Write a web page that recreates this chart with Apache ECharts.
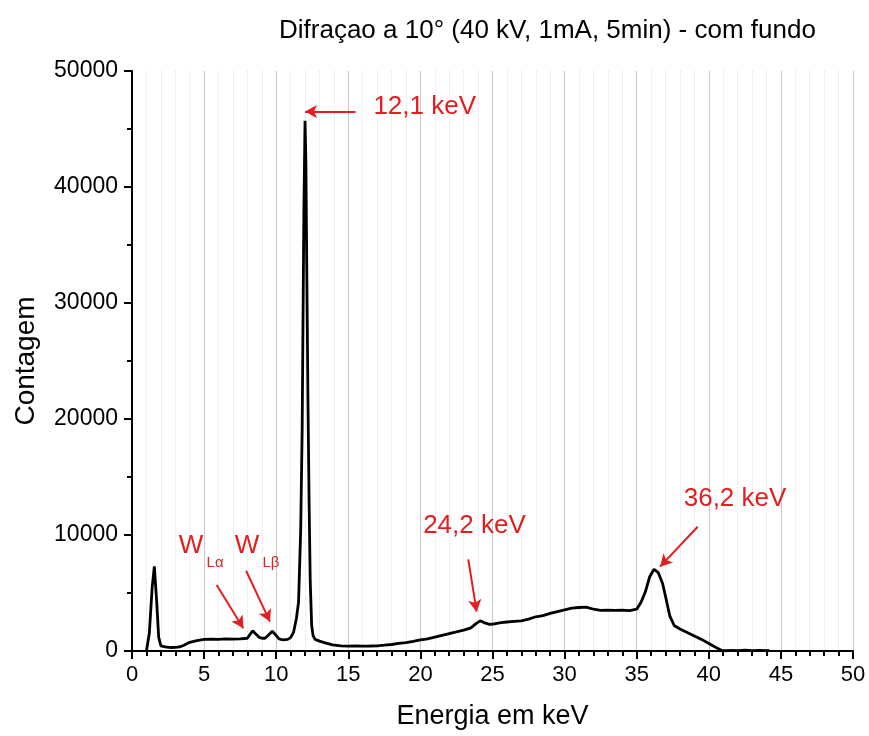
<!DOCTYPE html>
<html>
<head>
<meta charset="utf-8">
<script src="https://cdn.jsdelivr.net/npm/echarts@6/dist/echarts.min.js"></script>
<style>html,body{margin:0;padding:0;background:#fff;}#chart{width:869px;height:736px;}</style>
</head>
<body>
<div id="chart"></div>
<script>
// Energy (keV) and counts
const energy = [1.0,1.2,1.4,1.55,1.7,1.85,2.0,2.3,2.7,3.0,3.3,3.6,4.0,4.5,5.0,5.5,6.0,6.5,7.0,7.5,8.0,8.2,8.37,8.55,8.8,9.0,9.22,9.45,9.73,9.95,10.2,10.5,10.8,11.0,11.2,11.4,11.55,11.7,11.8,11.92,12.0,12.06,12.12,12.2,12.28,12.36,12.46,12.56,12.7,13.0,13.4,13.9,14.5,15.0,15.5,16.0,16.5,17.0,17.5,18.0,18.5,19.0,19.5,20.0,20.5,21.0,21.5,22.0,22.5,23.0,23.5,23.9,24.15,24.4,24.8,25.2,25.6,26.0,26.5,27.0,27.5,28.0,28.5,29.0,29.5,30.0,30.5,31.0,31.5,32.0,32.5,33.0,33.5,34.0,34.5,35.0,35.3,35.6,35.9,36.2,36.5,36.8,37.0,37.3,37.6,38.0,38.5,39.0,39.5,40.0,40.5,40.9,41.2,41.6,42.0,42.5,43.0,43.5,44.0,44.2];
const counts = [0,1500,5500,7300,4500,1200,450,350,300,320,350,500,750,900,1000,1020,1000,1050,1030,1050,1100,1450,1750,1500,1200,1100,1100,1350,1700,1400,1050,950,1000,1150,1600,2800,4200,10500,19000,38000,45700,42000,33000,22000,13000,6000,2200,1300,1000,850,700,520,450,420,430,420,430,450,500,560,650,720,830,950,1050,1200,1350,1500,1650,1800,2000,2400,2600,2450,2300,2350,2450,2500,2550,2600,2750,2950,3050,3250,3400,3550,3700,3750,3780,3600,3500,3520,3500,3530,3480,3600,4200,5100,6400,7050,6750,5800,4700,3000,2200,1900,1600,1300,1000,650,300,50,20,60,30,70,40,60,30,50];
const xTicks = [0,5,10,15,20,25,30,35,40,45,50];
const yTicks = [0,10000,20000,30000,40000,50000];
const titleText = 'Difraçao a 10° (40 kV, 1mA, 5min) - com fundo';
const xName = 'Energia em keV';
const yName = 'Contagem';
// annotation labels
const peakLabels = ['12,1 keV','24,2 keV','36,2 keV'];
const wLabels = ['W','W'];
const wSubs = ['Lα','Lβ'];

const RED = '#e41e1e';
const FONT = '"Liberation Sans", Arial, sans-serif';
const chart = echarts.init(document.getElementById('chart'));
const data = energy.map((e,i)=>[e,counts[i]]);

const arrows = [
  [[15.5,46500],[12.0,46500]],
  [[5.87,5690],[7.72,1960]],
  [[7.91,6920],[9.57,2530]],
  [[23.32,7900],[23.9,3390]],
  [[39.23,10710],[36.62,7270]]
];
const texts = [
  {name: peakLabels[0], coord:[20.3,46900], size:26},
  {name: peakLabels[1], coord:[23.75,10780], size:26},
  {name: peakLabels[2], coord:[41.82,13150], size:26},
  {name: wLabels[0], coord:[4.09,9050], size:26},
  {name: wSubs[0], coord:[5.76,7590], size:15},
  {name: wLabels[1], coord:[7.97,9050], size:26},
  {name: wSubs[1], coord:[9.64,7590], size:15}
];

chart.setOption({
  animation:false,
  backgroundColor:'#fff',
  title:{text:titleText,left:274,top:13,
    textStyle:{fontFamily:FONT,fontSize:26,fontWeight:'normal',color:'#000'}},
  grid:{left:132,right:16,top:71,bottom:85},
  xAxis:{type:'value',min:0,max:50,interval:5,
    name:xName,nameLocation:'middle',nameGap:52,
    nameTextStyle:{fontFamily:FONT,fontSize:27,color:'#000'},
    axisLine:{lineStyle:{color:'#000',width:2}},
    axisTick:{show:true,inside:false,length:8,lineStyle:{color:'#000',width:2}},
    minorTick:{show:true,splitNumber:5,length:5,lineStyle:{color:'#000',width:2}},
    axisLabel:{fontFamily:FONT,fontSize:22,color:'#000',margin:13},
    splitLine:{show:true,lineStyle:{color:'#c8c8c8',width:1}},
    minorSplitLine:{show:true,lineStyle:{color:'#e2e2e2',width:1,type:'dotted'}}
  },
  yAxis:{type:'value',min:0,max:50000,interval:10000,
    name:yName,nameLocation:'middle',nameGap:92,nameRotate:90,
    nameTextStyle:{fontFamily:FONT,fontSize:28,color:'#000'},
    axisLine:{show:true,lineStyle:{color:'#000',width:2}},
    axisTick:{show:true,inside:false,length:8,lineStyle:{color:'#000',width:2}},
    minorTick:{show:true,splitNumber:2,length:5,lineStyle:{color:'#000',width:2}},
    axisLabel:{fontFamily:FONT,fontSize:23,color:'#000',margin:14,formatter:v=>String(v)},
    splitLine:{show:false}
  },
  series:[{
    type:'line',data:data,symbol:'none',smooth:false,
    lineStyle:{color:'#000',width:2.8},
    markLine:{silent:true,symbol:['none','arrow'],symbolSize:[10,12],
      label:{show:false},
      lineStyle:{color:RED,width:2,type:'solid'},
      data:arrows.map(a=>[{coord:a[0]},{coord:a[1]}])
    },
    markPoint:{silent:true,symbol:'circle',symbolSize:0,
      data:texts.map(t=>({name:t.name,coord:t.coord,
        label:{show:true,position:'inside',formatter:'{b}',fontFamily:FONT,fontSize:t.size,color:RED}}))
    }
  }]
});
</script>
</body>
</html>
